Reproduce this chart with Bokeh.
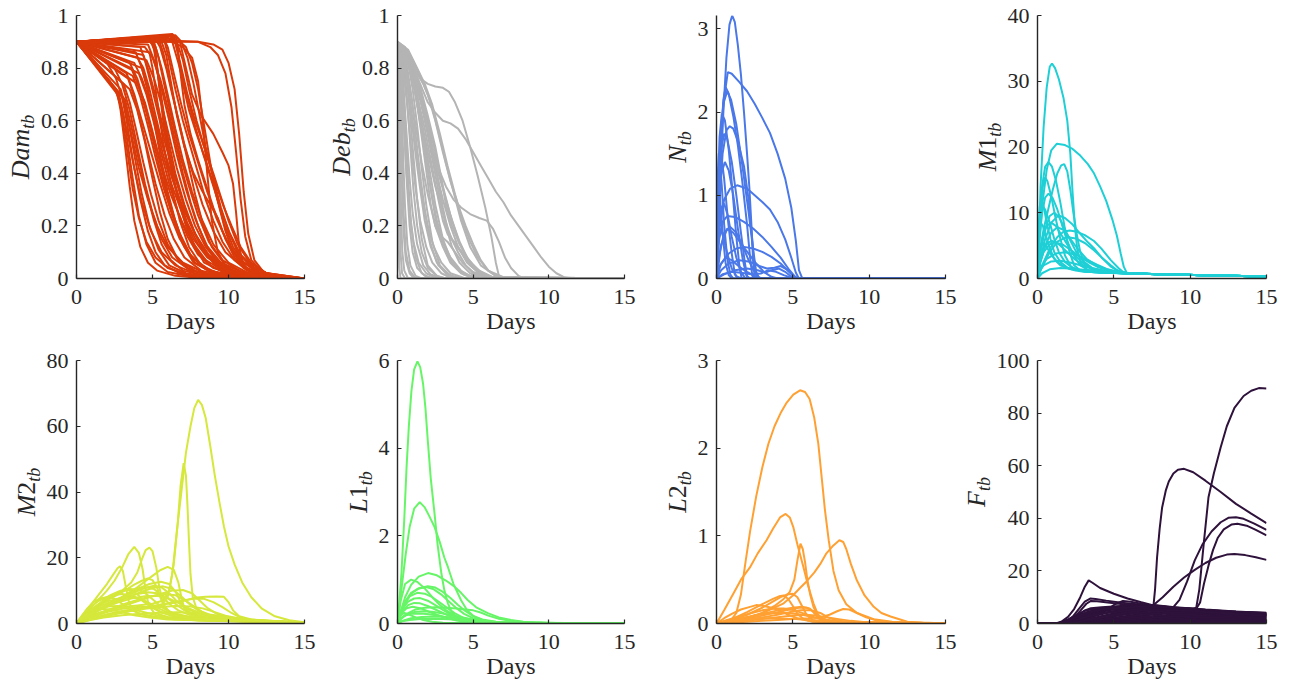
import math
from bokeh.plotting import figure
from bokeh.models import Range1d, FixedTicker, Label
from bokeh.layouts import row, column
from bokeh.embed import file_html
from bokeh.resources import INLINE

# ---------------- data ----------------
X_TICKS = [0, 5, 10, 15]
X_TICK_LABELS = ["0", "5", "10", "15"]

DAM_COLOR = "#DA3A0A"
DAM_YTICKS = [0, 0.2, 0.4, 0.6, 0.8, 1]
DAM_YLABELS = ["0", "0.2", "0.4", "0.6", "0.8", "1"]
DAM_YMAX = 1.0
DAM_TAIL = [(15, 0.0)]
DAM = [
    [(0,.9),(2.7,.7),(2.9,.64),(3.2,.5),(3.5,.35),(3.8,.22),(4.2,.12),(4.7,.06),(5.3,.03),(6.5,.01),(8,.003)],
    [(0,.9),(2.8,.7),(3.1,.62),(3.4,.5),(3.7,.38),(4.1,.24),(4.6,.13),(5.2,.06),(6,.025),(7.5,.008)],
    [(0,.9),(3.0,.69),(3.3,.6),(3.7,.45),(4.2,.3),(4.7,.18),(5.2,.1),(5.8,.05),(6.8,.02),(8,.007)],
    [(0,.9),(3.2,.68),(3.6,.58),(4.1,.45),(4.6,.33),(5.1,.22),(5.6,.13),(6.2,.07),(7,.03),(8.5,.01)],
    [(0,.9),(2.2,.75),(2.6,.71),(3,.64),(3.4,.54),(3.8,.42),(4.3,.29),(4.9,.18),(5.6,.1),(6.5,.05),(8,.015)],
    [(0,.9),(2,.82),(2.6,.76),(3.1,.67),(3.6,.55),(4.1,.42),(4.7,.3),(5.3,.2),(6,.12),(7,.06),(8.5,.02)],
    [(0,.9),(2.5,.8),(3.0,.74),(3.5,.64),(4.0,.5),(4.5,.36),(5,.25),(5.6,.15),(6.3,.08),(7.5,.03),(9,.01)],
    [(0,.9),(3.3,.78),(3.8,.7),(4.3,.6),(4.9,.48),(5.5,.36),(6.1,.25),(6.8,.15),(7.6,.08),(8.8,.03),(10.5,.01)],
    [(0,.9),(3.5,.72),(4,.64),(4.5,.52),(5,.38),(5.5,.25),(6,.15),(6.6,.08),(7.3,.04),(8.5,.01)],
    [(0,.9),(3.6,.8),(4.1,.73),(4.6,.63),(5.1,.51),(5.6,.39),(6.2,.27),(6.8,.17),(7.5,.09),(8.5,.035),(10,.01)],
    [(0,.9),(3.8,.82),(4.3,.76),(4.9,.66),(5.5,.54),(6.1,.42),(6.7,.31),(7.3,.21),(8,.13),(9,.06),(10.5,.02)],
    [(0,.9),(4,.74),(4.5,.67),(5,.56),(5.5,.44),(6,.32),(6.5,.21),(7,.13),(7.7,.06),(9,.02)],
    [(0,.9),(4,.84),(4.4,.8),(4.8,.72),(5.2,.62),(5.7,.5),(6.3,.38),(7,.27),(7.7,.18),(8.5,.1),(9.5,.04),(11,.012)],
    [(0,.9),(4.3,.8),(4.7,.72),(5.1,.6),(5.5,.47),(6,.33),(6.5,.22),(7.1,.12),(7.8,.06),(9,.02)],
    [(0,.9),(4.5,.88),(5,.84),(5.5,.76),(6,.65),(6.5,.52),(7,.4),(7.5,.29),(8,.2),(8.7,.11),(9.6,.05),(11,.015)],
    [(0,.9),(4.5,.91),(5.0,.9),(5.2,.86),(5.4,.75),(5.7,.6),(6.1,.45),(6.6,.32),(7.2,.2),(7.9,.11),(8.8,.05),(10,.015)],
    [(0,.9),(4.6,.83),(5.1,.76),(5.6,.66),(6.1,.54),(6.6,.42),(7.2,.3),(7.8,.2),(8.5,.12),(9.3,.06),(10.5,.02)],
    [(0,.9),(4.8,.86),(5.0,.8),(5.3,.68),(5.7,.52),(6.2,.36),(6.8,.22),(7.4,.12),(8.2,.05),(9.5,.015)],
    [(0,.9),(5,.9),(5.2,.85),(5.5,.72),(5.9,.55),(6.4,.38),(7,.24),(7.6,.14),(8.4,.06),(10,.015)],
    [(0,.9),(5.2,.91),(5.5,.88),(5.9,.8),(6.3,.7),(6.8,.58),(7.3,.45),(7.8,.32),(8.3,.21),(8.9,.12),(9.8,.05),(11.5,.012)],
    [(0,.9),(5.3,.92),(5.6,.9),(5.9,.85),(6.2,.75),(6.6,.62),(7.1,.5),(7.7,.4),(8.3,.33),(8.8,.28),(9.3,.23),(9.8,.15),(10.4,.08),(11.2,.03),(12.5,.01)],
    [(0,.9),(5.5,.92),(5.8,.9),(6.1,.83),(6.5,.72),(7,.6),(7.5,.5),(8,.4),(8.5,.3),(9,.22),(9.6,.14),(10.4,.07),(11.5,.025),(13,.008)],
    [(0,.9),(5.8,.91),(6.3,.9),(7,.88),(7.6,.84),(8.0,.75),(8.3,.6),(8.6,.4),(8.9,.22),(9.3,.1),(9.9,.04),(11,.012)],
    [(0,.9),(6,.925),(6.4,.92),(6.7,.85),(7.0,.74),(7.4,.64),(7.9,.55),(8.5,.45),(9,.36),(9.4,.27),(9.8,.18),(10.3,.1),(11,.04),(12.5,.01)],
    [(0,.9),(6.3,.93),(6.6,.91),(6.8,.8),(7.1,.66),(7.5,.55),(8,.45),(8.5,.36),(9,.27),(9.6,.18),(10.3,.1),(11.2,.04),(12.5,.012)],
    [(0,.9),(5.6,.92),(6.2,.92),(6.6,.9),(7,.83),(7.4,.72),(7.9,.6),(8.5,.48),(9.1,.37),(9.7,.27),(10.2,.2),(10.8,.12),(11.5,.06),(12.5,.02),(14,.005)],
    [(0,.9),(6.8,.9),(7.2,.88),(7.6,.82),(8,.72),(8.4,.58),(8.8,.44),(9.2,.32),(9.7,.21),(10.3,.12),(11,.06),(12,.02)],
    [(0,.9),(4,.91),(6,.915),(6.8,.9),(7.2,.8),(7.6,.7),(8.2,.62),(9,.55),(9.6,.48),(10,.43),(10.3,.36),(10.5,.25),(10.7,.12),(11,.05),(11.7,.02),(13,.006)],
    [(0,.9),(2,.9),(5,.9),(8,.9),(9,.89),(9.6,.87),(10,.82),(10.4,.72),(10.7,.55),(11,.33),(11.3,.17),(11.7,.07),(12.3,.025),(13,.01)],
    [(0,.9),(3,.9),(6,.905),(8,.9),(8.8,.88),(9.3,.85),(9.8,.78),(10.2,.65),(10.5,.48),(10.8,.3),(11.1,.16),(11.5,.07),(12.2,.025),(13.2,.008)],
    [(0,.9),(2.9,.72),(3.2,.66),(3.5,.57),(3.9,.44),(4.3,.32),(4.8,.2),(5.4,.11),(6.1,.05),(7.2,.02),(9,.005)],
    [(0,.9),(3.1,.74),(3.5,.67),(3.9,.57),(4.4,.44),(4.9,.32),(5.4,.22),(6,.13),(6.7,.07),(7.8,.03),(9.5,.008)],
    [(0,.9),(3.4,.76),(3.8,.69),(4.2,.6),(4.7,.48),(5.2,.36),(5.8,.24),(6.4,.15),(7.1,.08),(8.2,.03),(10,.008)],
    [(0,.9),(3.7,.77),(4.2,.69),(4.7,.58),(5.2,.46),(5.7,.35),(6.3,.24),(6.9,.15),(7.6,.08),(8.7,.03),(10.5,.008)],
    [(0,.9),(4.1,.78),(4.6,.7),(5.1,.59),(5.6,.47),(6.1,.36),(6.7,.25),(7.3,.16),(8,.09),(9,.04),(11,.01)],
    [(0,.9),(4.4,.85),(4.8,.78),(5.3,.67),(5.8,.55),(6.3,.43),(6.9,.31),(7.5,.21),(8.2,.12),(9.2,.05),(11,.012)],
    [(0,.9),(4.7,.89),(5.1,.83),(5.6,.72),(6.1,.6),(6.6,.47),(7.2,.34),(7.8,.23),(8.5,.13),(9.5,.06),(11.5,.012)],
    [(0,.9),(5.1,.9),(5.4,.84),(5.8,.73),(6.3,.6),(6.8,.47),(7.4,.35),(8,.24),(8.7,.14),(9.6,.07),(11,.02)],
    [(0,.9),(5.4,.91),(5.7,.86),(6.1,.76),(6.6,.63),(7.1,.51),(7.7,.39),(8.3,.28),(9,.18),(9.8,.1),(11,.04),(12.5,.01)],
    [(0,.9),(5.7,.92),(6,.88),(6.4,.78),(6.9,.66),(7.4,.55),(8,.44),(8.6,.33),(9.2,.23),(9.9,.14),(10.8,.07),(12,.025)],
    [(0,.9),(6.1,.925),(6.5,.9),(6.9,.8),(7.3,.7),(7.8,.6),(8.4,.5),(9,.4),(9.5,.31),(10,.22),(10.6,.13),(11.4,.06),(12.5,.02)],
    [(0,.9),(4.9,.9),(5.1,.87),(5.3,.8),(5.6,.68),(6,.54),(6.5,.4),(7.1,.28),(7.8,.17),(8.6,.09),(9.7,.04),(11,.012)],
    [(0,.9),(4.2,.88),(4.5,.83),(4.9,.74),(5.4,.62),(5.9,.5),(6.5,.38),(7.1,.27),(7.8,.17),(8.7,.09),(10,.03)],
    [(0,.9),(3.9,.86),(4.3,.8),(4.7,.71),(5.2,.59),(5.7,.47),(6.3,.35),(7,.24),(7.7,.15),(8.6,.08),(10,.025)],
    [(0,.9),(2.6,.72),(2.85,.67),(3.1,.58),(3.4,.46),(3.7,.34),(4.1,.23),(4.6,.14),(5.2,.08),(6,.04),(7.5,.012)],
    [(0,.9),(6.5,.925),(6.9,.9),(7.3,.84),(7.7,.74),(8.1,.62),(8.5,.5),(9,.38),(9.5,.27),(10,.18),(10.6,.1),(11.4,.05),(12.5,.02)],
    [(0,.9),(3.5,.82),(4.0,.76),(4.5,.66),(5.0,.55),(5.6,.43),(6.2,.32),(6.9,.22),(7.6,.14),(8.5,.07),(9.8,.025)],
    [(0,.9),(4.8,.9),(5.2,.88),(5.6,.8),(6.0,.7),(6.5,.57),(7.0,.45),(7.6,.33),(8.2,.23),(9,.13),(10,.06),(11.5,.015)],
    [(0,.9),(5.9,.92),(6.3,.9),(6.7,.82),(7.2,.71),(7.7,.6),(8.3,.48),(8.9,.37),(9.5,.26),(10.1,.17),(10.8,.09),(11.8,.035),(13,.01)],
]

DEB_COLOR = "#B4B4B4"
DEB_YTICKS = [0, 0.2, 0.4, 0.6, 0.8, 1]
DEB_YLABELS = ["0", "0.2", "0.4", "0.6", "0.8", "1"]
DEB_YMAX = 1.0
DEB_TAIL = [(15, 0.0)]
DEB = [
    [(0,.9),(0.05,.85),(0.1,.6),(0.15,.3),(0.2,.1),(0.3,.02),(0.5,0)],
    [(0,.9),(0.1,.86),(0.2,.7),(0.3,.45),(0.4,.25),(0.55,.1),(0.8,.03),(1.2,0)],
    [(0,.9),(0.1,.88),(0.2,.8),(0.3,.62),(0.4,.42),(0.5,.27),(0.65,.13),(0.85,.05),(1.2,.01),(1.6,0)],
    [(0,.9),(0.15,.87),(0.3,.75),(0.45,.56),(0.6,.38),(0.8,.2),(1.0,.1),(1.3,.04),(1.8,.01),(2.5,0)],
    [(0,.9),(0.2,.87),(0.35,.78),(0.5,.6),(0.7,.38),(0.9,.2),(1.2,.08),(1.6,.02),(2.2,0)],
    [(0,.9),(0.25,.87),(0.45,.8),(0.65,.67),(0.85,.5),(1.05,.34),(1.3,.2),(1.6,.1),(2,.04),(2.6,.01),(3.2,0)],
    [(0,.9),(0.3,.88),(0.5,.82),(0.75,.68),(1.0,.5),(1.3,.3),(1.6,.15),(2,.05),(2.6,.01),(3.2,0)],
    [(0,.9),(0.3,.86),(0.6,.76),(0.9,.62),(1.2,.47),(1.5,.34),(1.8,.22),(2.2,.12),(2.7,.05),(3.3,.015),(4,0)],
    [(0,.9),(0.35,.87),(0.65,.8),(0.95,.68),(1.25,.52),(1.55,.37),(1.85,.24),(2.2,.13),(2.6,.06),(3.2,.02),(4,0)],
    [(0,.9),(0.4,.85),(0.8,.73),(1.2,.58),(1.6,.44),(2,.32),(2.5,.2),(3,.12),(3.5,.06),(4.2,.02),(5,0)],
    [(0,.9),(0.4,.88),(0.7,.82),(1,.72),(1.3,.58),(1.6,.42),(1.9,.28),(2.3,.14),(2.8,.05),(3.5,.01),(4.5,0)],
    [(0,.9),(0.45,.87),(0.85,.8),(1.2,.7),(1.55,.56),(1.9,.41),(2.2,.28),(2.5,.2),(2.8,.16),(3.1,.12),(3.5,.07),(4.1,.03),(5,.005)],
    [(0,.9),(0.5,.87),(0.9,.8),(1.3,.7),(1.7,.56),(2.1,.42),(2.5,.28),(3,.15),(3.6,.06),(4.4,.015),(5.5,0)],
    [(0,.9),(0.5,.86),(1,.76),(1.5,.62),(2,.48),(2.5,.35),(3,.25),(3.5,.16),(4,.1),(4.5,.05),(5,.02),(6,0)],
    [(0,.9),(0.5,.86),(1,.76),(1.5,.6),(2,.42),(2.3,.3),(2.6,.2),(2.9,.16),(3.3,.14),(3.8,.1),(4.3,.06),(5,.025),(6,.005)],
    [(0,.9),(0.5,.87),(1,.8),(1.4,.73),(1.8,.64),(2.2,.53),(2.6,.4),(3,.27),(3.3,.19),(3.6,.15),(4,.12),(4.5,.08),(5,.05),(5.6,.02),(6.5,0)],
    [(0,.9),(0.55,.86),(1.05,.78),(1.5,.68),(1.95,.56),(2.35,.44),(2.75,.32),(3.15,.21),(3.6,.12),(4.1,.06),(4.8,.02),(5.6,0)],
    [(0,.9),(0.6,.86),(1.1,.77),(1.6,.66),(2.1,.54),(2.6,.42),(3.1,.32),(3.6,.22),(4.1,.14),(4.6,.08),(5.3,.03),(6.2,.005)],
    [(0,.9),(0.8,.84),(1.4,.72),(2,.56),(2.5,.42),(3,.3),(3.5,.2),(4,.12),(4.6,.06),(5.3,.025),(6.2,.005)],
    [(0,.9),(0.5,.88),(1,.81),(1.5,.72),(2,.6),(2.5,.48),(3,.35),(3.5,.24),(4,.15),(4.6,.07),(5.4,.02),(6.5,0)],
    [(0,.9),(0.7,.87),(1.3,.8),(1.8,.74),(2.3,.66),(2.8,.55),(3.3,.43),(3.8,.32),(4.3,.22),(4.8,.14),(5.3,.08),(6,.03),(7,.005)],
    [(0,.9),(0.6,.87),(1.2,.79),(1.7,.74),(2.2,.67),(2.7,.56),(3.2,.44),(3.7,.33),(4.2,.22),(4.8,.12),(5.5,.05),(6.5,.01),(7.5,0)],
    [(0,.9),(1,.83),(1.5,.77),(2,.7),(2.5,.6),(3,.48),(3.5,.37),(4,.28),(4.5,.2),(5,.13),(5.5,.07),(6,.03),(6.5,.01),(7,0)],
    [(0,.9),(0.7,.85),(1.2,.77),(1.7,.65),(2.2,.52),(2.7,.42),(3.2,.35),(3.7,.3),(4.2,.27),(4.8,.245),(5.4,.23),(5.9,.22),(6.3,.19),(6.7,.14),(7.1,.08),(7.5,.04),(8,.01),(8.4,0)],
    [(0,.9),(0.5,.87),(1,.81),(1.5,.76),(2,.74),(2.5,.73),(3,.725),(3.4,.71),(3.8,.67),(4.3,.6),(4.8,.5),(5.3,.39),(5.8,.27),(6.2,.16),(6.5,.06),(6.7,.01),(7,0)],
    [(0,.9),(0.5,.87),(1,.8),(1.5,.74),(2,.67),(2.5,.63),(3,.6),(3.5,.59),(4,.57),(4.5,.53),(5,.48),(5.5,.43),(6,.38),(6.5,.33),(7,.29),(7.5,.24),(8,.2),(8.5,.16),(9,.12),(9.5,.08),(10,.045),(10.5,.02),(11,.005),(11.5,0)],
    [(0,.9),(0.05,.88),(0.1,.8),(0.15,.6),(0.2,.4),(0.25,.22),(0.32,.1),(0.45,.03),(0.7,0)],
    [(0,.9),(0.08,.87),(0.15,.75),(0.22,.55),(0.3,.35),(0.4,.18),(0.55,.07),(0.8,.02),(1.1,0)],
    [(0,.85),(0.02,.7),(0.05,.4),(0.08,.15),(0.12,.04),(0.2,0)],
    [(0,.9),(0.2,.85),(0.4,.72),(0.6,.55),(0.8,.38),(1,.25),(1.3,.13),(1.7,.05),(2.2,.015),(3,0)],
    [(0,.9),(0.4,.84),(0.7,.74),(1,.6),(1.3,.45),(1.6,.32),(2,.2),(2.4,.12),(2.9,.06),(3.5,.02),(4.5,0)],
    [(0,.9),(0.6,.85),(1,.76),(1.4,.63),(1.8,.48),(2.2,.34),(2.6,.22),(3,.14),(3.5,.08),(4.2,.03),(5,0)],
    [(0,.9),(0.5,.85),(1.2,.72),(1.8,.57),(2.3,.42),(2.7,.3),(3,.22),(3.3,.17),(3.7,.14),(4.2,.1),(4.8,.05),(5.5,.015),(6.5,0)],
    [(0,.9),(0.8,.85),(1.4,.75),(2,.62),(2.5,.5),(2.9,.38),(3.2,.28),(3.6,.2),(4.1,.13),(4.7,.07),(5.4,.03),(6.3,.005)],
    [(0,.9),(0.3,.83),(0.6,.68),(0.9,.5),(1.2,.34),(1.5,.22),(1.9,.12),(2.3,.06),(2.9,.02),(3.6,0)],
    [(0,.9),(0.15,.85),(0.3,.72),(0.45,.55),(0.6,.4),(0.8,.26),(1.05,.14),(1.4,.06),(1.9,.02),(2.6,0)],
]

N_COLOR = "#4A78E8"
N_YTICKS = [0, 1, 2, 3]
N_YLABELS = ["0", "1", "2", "3"]
N_YMAX = 3.16
N_TAIL = [(15, 0.0)]
NTB = [
    [(0,0),(0.1,.5),(0.25,1.2),(0.45,2.0),(0.65,2.65),(0.85,3.05),(1.03,3.16),(1.2,3.08),(1.4,2.8),(1.6,2.45),(1.8,2.0),(2.0,1.5),(2.15,1.1),(2.3,.6),(2.4,.2),(2.5,.02),(3,0)],
    [(0,0),(0.1,.6),(0.25,1.4),(0.45,2.1),(0.74,2.48),(1.0,2.46),(1.5,2.36),(2,2.25),(2.5,2.1),(3,1.93),(3.5,1.75),(4,1.5),(4.5,1.2),(4.9,.85),(5.2,.45),(5.4,.1),(5.6,.01)],
    [(0,0),(0.1,.8),(0.3,1.7),(0.45,2.15),(0.6,2.3),(0.8,2.22),(1.1,1.95),(1.4,1.6),(1.7,1.15),(2.0,.65),(2.2,.25),(2.35,.03),(2.6,0)],
    [(0,0),(0.1,.9),(0.25,1.7),(0.45,2.1),(0.7,2.25),(0.95,2.15),(1.3,1.85),(1.7,1.35),(2.1,.8),(2.4,.35),(2.6,.08),(2.8,0)],
    [(0,0),(0.08,1.0),(0.2,1.7),(0.35,1.98),(0.55,1.9),(0.8,1.55),(1.05,1.05),(1.3,.5),(1.5,.15),(1.65,0)],
    [(0,0),(0.15,.8),(0.4,1.5),(0.65,1.78),(0.87,1.83),(1.1,1.8),(1.4,1.65),(1.8,1.35),(2.1,.95),(2.35,.45),(2.5,.1),(2.7,0)],
    [(0,0),(0.1,.9),(0.3,1.55),(0.5,1.74),(0.7,1.68),(1.0,1.4),(1.3,1.0),(1.6,.55),(1.85,.2),(2.0,.03),(2.2,0)],
    [(0,0),(0.06,1.1),(0.15,1.5),(0.3,1.5),(0.5,1.2),(0.75,.7),(1.0,.3),(1.2,.05),(1.4,0)],
    [(0,0),(0.2,.6),(0.5,.95),(0.9,1.08),(1.35,1.12),(2,1.08),(2.5,1.0),(3,.92),(3.5,.83),(4,.68),(4.5,.47),(4.9,.25),(5.2,.07),(5.4,0)],
    [(0,0),(0.15,.45),(0.4,.68),(0.7,.75),(1.2,.74),(1.8,.68),(2.4,.6),(3,.5),(3.6,.38),(4.2,.25),(4.7,.12),(5.1,.03),(5.3,0)],
    [(0,0),(0.3,.18),(0.8,.3),(1.3,.36),(1.8,.38),(2.4,.36),(3,.32),(3.6,.26),(4.2,.18),(4.7,.09),(5.1,.02),(5.3,0)],
    [(0,0),(0.1,.5),(0.3,.85),(0.5,.9),(0.75,.75),(1.0,.5),(1.3,.25),(1.6,.08),(1.9,0)],
    [(0,0),(0.05,.8),(0.12,1.3),(0.22,1.4),(0.35,1.1),(0.5,.65),(0.7,.25),(0.9,.05),(1.1,0)],
    [(0,0),(0.2,.3),(0.5,.55),(0.9,.62),(1.3,.55),(1.7,.4),(2.1,.22),(2.5,.08),(2.8,0)],
    [(0,0),(0.3,.1),(0.8,.18),(1.5,.22),(2.2,.2),(2.8,.15),(3.3,.12),(3.8,.13),(4.2,.15),(4.6,.11),(5,.04),(5.3,0)],
    [(0,0),(0.5,.05),(1.2,.1),(2,.12),(2.7,.1),(3.2,.07),(3.6,.1),(4.1,.12),(4.5,.08),(4.9,.02),(5.2,0)],
    [(0,0),(0.2,.15),(0.6,.25),(1,.22),(1.5,.14),(2,.08),(2.5,.03),(3,0)],
    [(0,0),(0.4,.05),(1,.08),(1.6,.07),(2.3,.05),(2.9,.06),(3.4,.1),(3.9,.08),(4.4,.04),(4.9,.01),(5.5,0)],
    [(0,0),(0.1,.4),(0.25,.6),(0.45,.5),(0.7,.3),(1,.12),(1.3,.03),(1.6,0)],
    [(0,0),(0.3,.4),(0.7,.6),(1.1,.55),(1.6,.42),(2.1,.3),(2.6,.18),(3.1,.08),(3.6,.02),(4,0)],
    [(0,0),(0.04,.6),(0.1,1.0),(0.18,1.05),(0.3,.8),(0.45,.45),(0.6,.18),(0.8,.04),(1,0)],
    [(0,0),(0.1,.7),(0.3,1.25),(0.55,1.4),(0.8,1.3),(1.1,1.0),(1.4,.6),(1.7,.25),(1.95,.04),(2.1,0)],
]

M1_COLOR = "#1FCFD6"
M1_YTICKS = [0, 10, 20, 30, 40]
M1_YLABELS = ["0", "10", "20", "30", "40"]
M1_YMAX = 40
M1_TAIL = [(8, 0.65), (11, 0.48), (15, 0.3)]
M1 = [
    [(0,0),(0.1,6),(0.2,14),(0.4,23),(0.6,29),(0.8,32.2),(0.95,32.7),(1.15,32),(1.4,30.3),(1.7,27.5),(1.95,24),(2.15,19),(2.3,13),(2.45,8),(2.6,4.5),(2.85,2.2),(3.3,1.2),(4,.95),(6,.75)],
    [(0,0),(0.1,5),(0.3,11),(0.6,16.5),(0.9,19.5),(1.27,20.5),(1.8,20.3),(2.3,19.7),(2.8,18.7),(3.3,17.4),(3.7,16),(4.1,14),(4.5,11.8),(4.9,9),(5.2,6.5),(5.45,3.8),(5.65,1.8),(5.85,.85),(6.2,.75)],
    [(0,0),(0.1,7),(0.3,14),(0.5,17),(0.72,17.7),(0.95,17),(1.2,15),(1.5,11.5),(1.8,7.5),(2.1,4),(2.4,2),(2.8,1.2),(3.5,1),(6,.75)],
    [(0,0),(0.15,4),(0.4,7.5),(0.7,10.5),(1.0,13.5),(1.3,16),(1.55,17.2),(1.75,17.4),(1.95,16.3),(2.15,13.5),(2.35,10),(2.55,7),(2.8,4),(3.1,2.2),(3.6,1.3),(4.5,1),(6,.75)],
    [(0,0),(0.08,6),(0.2,11),(0.35,14),(0.5,15.4),(0.65,14.8),(0.9,12.5),(1.2,9),(1.5,6),(1.8,3.5),(2.2,1.8),(2.8,1.1),(4,.9),(6,.75)],
    [(0,0),(0.1,5),(0.3,10),(0.5,12.3),(0.72,12.9),(1.0,12.2),(1.3,10.5),(1.6,8.2),(1.9,6),(2.3,3.8),(2.8,2),(3.4,1.2),(4.5,.95),(6,.75)],
    [(0,0),(0.2,3),(0.5,6),(0.9,8.5),(1.38,9.6),(1.8,9.2),(2.3,8.2),(2.8,6.8),(3.3,5.5),(3.7,4.6),(4.2,3.2),(4.8,1.8),(5.3,1.1),(6,.8)],
    [(0,0),(0.3,2),(0.8,4.5),(1.3,6.3),(1.7,7.1),(2.1,7.3),(2.6,7.1),(3.1,6.6),(3.7,5.7),(4.2,4.5),(4.8,2.8),(5.3,1.6),(5.65,.9),(6,.78)],
    [(0,0),(0.3,1.8),(0.8,4),(1.3,5.6),(1.9,6.3),(2.5,6.1),(3.1,5.4),(3.7,4.3),(4.3,3),(4.8,2),(5.2,1.3),(5.6,.9),(6,.78)],
    [(0,0),(0.05,5),(0.15,9),(0.3,11),(0.5,10.5),(0.8,8.5),(1.1,6),(1.4,4),(1.8,2.5),(2.3,1.6),(3,1.1),(4,.9),(6,.75)],
    [(0,0),(0.06,7),(0.15,11),(0.25,12),(0.4,11),(0.6,8.5),(0.85,6),(1.1,4),(1.5,2.5),(2,1.6),(3,1.1),(4.5,.9),(6,.75)],
    [(0,0),(0.1,3),(0.3,6),(0.6,8),(0.9,8.5),(1.2,8),(1.6,6.5),(2,5),(2.5,3.4),(3,2.3),(3.6,1.5),(4.5,1),(6,.75)],
    [(0,0),(0.1,2),(0.4,4),(0.8,5.2),(1.2,5.5),(1.7,5.1),(2.2,4.3),(2.8,3.3),(3.4,2.4),(4,1.7),(4.7,1.2),(6,.78)],
    [(0,0),(0.2,1.5),(0.6,3),(1.2,3.8),(1.8,4),(2.5,3.6),(3.2,2.9),(3.9,2.1),(4.6,1.4),(5.3,1),(6,.8)],
    [(0,0),(0.05,3),(0.15,5),(0.35,5.5),(0.6,4.8),(0.9,3.6),(1.3,2.5),(1.8,1.7),(2.5,1.2),(3.5,1),(6,.75)],
    [(0,0),(0.1,1),(0.4,2),(0.9,2.6),(1.5,2.7),(2.2,2.4),(3,1.9),(3.8,1.4),(4.6,1.1),(6,.8)],
    [(0,0),(0.15,2.5),(0.4,4.5),(0.7,5.5),(1,5.7),(1.4,5.2),(1.9,4.1),(2.4,3),(3,2),(3.7,1.4),(4.6,1),(6,.77)],
    [(0,0),(0.2,4),(0.5,7.5),(0.8,9.5),(1.1,10),(1.4,9.4),(1.7,8),(2.1,6),(2.5,4.2),(3,2.6),(3.6,1.6),(4.5,1.1),(6,.78)],
    [(0,0),(0.3,.8),(0.8,1.4),(1.5,1.6),(2.3,1.5),(3.2,1.3),(4.2,1.05),(6,.78)],
    [(0,0),(0.04,4),(0.1,7),(0.2,8.5),(0.35,8),(0.55,6.5),(0.8,4.6),(1.1,3),(1.5,2),(2.2,1.4),(3.2,1.05),(6,.75)],
    [(0,0),(0.2,2.5),(0.5,5),(0.9,7),(1.3,7.8),(1.7,7.4),(2.1,6.2),(2.6,4.6),(3.2,3),(3.9,1.9),(4.8,1.2),(6,.78)],
]

M2_COLOR = "#D5E83B"
M2_YTICKS = [0, 20, 40, 60, 80]
M2_YLABELS = ["0", "20", "40", "60", "80"]
M2_YMAX = 80
M2_TAIL = []
M2 = [
    [(0,0),(1,2),(2,3.5),(3,4.5),(4,5),(5,5),(5.6,5.5),(6.0,8),(6.3,15),(6.6,28),(6.9,40),(7.2,52),(7.5,60),(7.75,65.5),(8.0,68),(8.25,66.5),(8.5,62.5),(8.8,54),(9.1,45),(9.4,37),(9.7,29.5),(10.0,23.5),(10.4,18),(10.9,12.5),(11.5,8),(12.2,4.5),(13,2.3),(14,1),(15,.4)],
    [(0,0),(1,2.5),(2,4),(3,5),(4,5.5),(5,6),(5.7,7),(6.1,10),(6.4,18),(6.65,30),(6.85,42),(7.05,48.8),(7.2,45),(7.3,36),(7.4,25),(7.5,15),(7.65,8),(7.9,4.5),(8.5,2.8),(9.5,1.6),(11,.8),(15,.3)],
    [(0,0),(0.5,2.5),(1,5),(1.5,7.5),(2,10),(2.5,13),(3,17),(3.4,21),(3.8,23.3),(4.1,21.5),(4.35,16.5),(4.55,10),(4.75,5.5),(5.1,3.3),(6,2),(8,1),(15,.2)],
    [(0,0),(0.5,2),(1,4),(2,7),(3,10),(3.6,12.5),(4.0,15.5),(4.3,19.5),(4.55,22.3),(4.8,23.1),(5.0,22),(5.25,17),(5.45,11),(5.7,6),(6.1,3.5),(7,2),(9,1),(15,.2)],
    [(0,0),(0.5,3),(1,6),(1.5,9),(2,12),(2.4,14.8),(2.7,16.8),(2.87,17.4),(3.05,16),(3.25,11),(3.45,6.5),(3.7,4),(4.2,2.8),(5.5,1.8),(8,.9),(15,.2)],
    [(0,0),(0.5,1.5),(1,3),(2,5.5),(3,8),(4,11),(4.5,12.8),(5,14.5),(5.5,16.2),(6,17.2),(6.4,16.3),(6.7,12.5),(6.9,8),(7.1,4.5),(7.5,2.8),(8.5,1.7),(10,.9),(15,.2)],
    [(0,0),(0.5,2),(1,4),(2,7),(3,9.5),(3.8,11.8),(4.3,13),(4.7,13.7),(5.0,13.2),(5.3,11),(5.55,7.5),(5.8,4.8),(6.3,3.2),(7.5,2),(9,1.2),(15,.2)],
    [(0,0),(0.5,1.5),(1,3),(2,5.5),(3,8),(4,10.5),(4.8,12),(5.55,12.7),(6.1,12),(6.5,9.8),(6.8,7),(7.1,4.5),(7.6,3),(8.6,1.8),(10,1),(15,.2)],
    [(0,0),(1,1.5),(2,2.8),(3,3.8),(4,4.6),(5,5.3),(6,6),(7,6.8),(7.75,7.8),(8.5,8.1),(9.2,8.2),(9.7,8.1),(10.0,6.5),(10.3,4),(10.7,2.2),(11.5,1.2),(13,.6),(15,.2)],
    [(0,0),(1,1.2),(2,2.3),(3,3.3),(4,4.2),(5,5.2),(6,6.2),(7,7),(7.8,7.6),(8.4,7.5),(9,6.5),(9.6,5),(10.2,3.2),(10.8,1.8),(11.5,1.1),(13,.6),(15,.2)],
    [(0,0),(0.3,2),(0.7,4.5),(1.1,6.5),(1.5,7.5),(2,8),(2.5,7.5),(3,6),(3.5,4.5),(4.2,3),(5,2),(6.5,1.2),(15,.2)],
    [(0,0),(0.4,2.5),(0.9,5),(1.5,7),(2.2,8.5),(3,9),(3.7,8.5),(4.3,7),(4.9,5),(5.5,3.5),(6.3,2.3),(7.5,1.4),(15,.2)],
    [(0,0),(0.5,1.5),(1.2,3.5),(2,5.5),(3,7.5),(4,9),(4.7,9.5),(5.3,9.2),(5.9,8),(6.5,6),(7.1,4),(7.8,2.6),(9,1.5),(15,.2)],
    [(0,0),(0.5,1),(1.5,2.8),(2.5,4.5),(3.5,6),(4.5,7.5),(5.5,9),(6.3,10),(7,10.2),(7.6,9.2),(8.1,7),(8.6,4.8),(9.2,3),(10,1.8),(11,1.1),(15,.2)],
    [(0,0),(0.3,1.5),(0.8,3.2),(1.4,4.5),(2,5.2),(2.7,5.3),(3.4,4.8),(4.1,3.9),(4.9,2.9),(5.8,2),(7,1.3),(15,.2)],
    [(0,0),(0.6,1.5),(1.4,3),(2.3,4.5),(3.2,6),(4.1,7.3),(5,8.4),(5.8,9),(6.5,8.6),(7.1,7.2),(7.7,5.3),(8.3,3.5),(9,2.2),(10,1.3),(15,.2)],
    [(0,0),(0.4,2),(1,3.8),(1.7,5.5),(2.5,7),(3.3,8.5),(4,10),(4.6,11),(5.1,10.5),(5.6,8.5),(6.1,6),(6.7,4),(7.5,2.5),(8.6,1.5),(15,.2)],
    [(0,0),(0.5,1),(1.5,2),(2.5,3),(3.5,3.8),(4.5,4.5),(5.5,5),(6.5,5.3),(7.5,5.2),(8.3,4.6),(9,3.6),(9.8,2.4),(10.7,1.5),(12,.8),(15,.2)],
    [(0,0),(0.2,1.2),(0.6,2.8),(1.1,4),(1.7,4.5),(2.3,4.2),(3,3.4),(3.8,2.5),(4.8,1.8),(6,1.2),(15,.2)],
    [(0,0),(0.7,2),(1.5,4),(2.4,6),(3.3,7.8),(4.2,9.5),(5,10.8),(5.7,11.3),(6.3,10.5),(6.9,8.2),(7.5,5.6),(8.1,3.7),(8.8,2.4),(9.8,1.5),(15,.2)],
    [(0,0),(0.5,2.5),(1.2,5),(2,7.5),(2.8,9.5),(3.5,10.5),(4.1,10.3),(4.6,9),(5.1,7),(5.6,5),(6.2,3.4),(7,2.3),(8.3,1.4),(15,.2)],
    [(0,0),(0.8,1),(1.8,1.8),(3,2.5),(4.2,3),(5.4,3.3),(6.6,3.4),(7.8,3.2),(9,2.6),(10.2,1.8),(11.5,1.1),(15,.2)],
    [(0,0),(0.3,1.8),(0.8,3.8),(1.4,5.5),(2.1,6.8),(2.9,7.8),(3.6,8),(4.2,7.5),(4.8,6.2),(5.4,4.6),(6.1,3.2),(7,2.1),(8.5,1.2),(15,.2)],
    [(0,0),(0.6,1.8),(1.3,3.8),(2.1,5.8),(3,7.8),(3.8,9.5),(4.5,10.8),(5.1,11.5),(5.6,11),(6.1,9.2),(6.6,6.8),(7.2,4.6),(8,3),(9,1.9),(15,.2)],
    [(0,0),(0.4,1.4),(1,3),(1.8,4.8),(2.7,6.4),(3.6,7.6),(4.5,8.3),(5.3,8.4),(6,7.8),(6.7,6.3),(7.4,4.6),(8.2,3.1),(9.2,2),(10.5,1.2),(15,.2)],
    [(0,0),(0.5,2.2),(1.1,4.6),(1.7,6.8),(2.3,8.8),(2.9,10),(3.4,10.2),(3.9,9.2),(4.4,7.3),(4.9,5.3),(5.5,3.7),(6.3,2.5),(7.5,1.6),(15,.2)],
]

L1_COLOR = "#66F566"
L1_YTICKS = [0, 2, 4, 6]
L1_YLABELS = ["0", "2", "4", "6"]
L1_YMAX = 6
L1_TAIL = [(15, 0.0)]
L1 = [
    [(0,0),(0.1,.4),(0.26,1.14),(0.45,2.4),(0.6,3.57),(0.75,4.5),(0.92,5.3),(1.1,5.8),(1.32,5.98),(1.5,5.85),(1.69,5.47),(1.85,4.9),(2.0,4.18),(2.2,3.3),(2.45,2.5),(2.65,1.8),(2.9,1.14),(3.1,.75),(3.33,.46),(3.6,.25),(4.0,.11),(4.6,.04),(5.5,.01)],
    [(0,0),(0.1,.3),(0.3,.9),(0.55,1.6),(0.8,2.2),(1.1,2.62),(1.47,2.77),(1.8,2.65),(2.1,2.45),(2.45,2.2),(2.8,1.85),(3.1,1.5),(3.33,1.29),(3.7,.9),(4.2,.53),(4.6,.3),(5.1,.15),(5.8,.06),(7,.02)],
    [(0,0),(0.2,.25),(0.5,.6),(0.9,.88),(1.4,1.07),(2.02,1.15),(2.6,1.1),(3.2,.98),(3.77,.84),(4.2,.7),(4.65,.53),(5.2,.37),(6,.23),(6.7,.14),(7.5,.08),(8.3,.04),(9.25,.02),(10.5,.01)],
    [(0,0),(0.2,.2),(0.5,.45),(0.9,.68),(1.4,.8),(2,.85),(2.5,.82),(3,.72),(3.5,.58),(4,.42),(4.5,.28),(5,.17),(5.6,.09),(6.5,.04),(8,.01)],
    [(0,0),(0.2,.25),(0.5,.5),(0.9,.7),(1.4,.8),(1.9,.83),(2.4,.78),(2.9,.66),(3.4,.5),(3.9,.35),(4.4,.22),(5,.12),(5.8,.05),(7,.015)],
    [(0,0),(0.15,.2),(0.4,.45),(0.8,.62),(1.3,.7),(1.8,.68),(2.3,.6),(2.8,.48),(3.3,.35),(3.8,.23),(4.3,.14),(5,.07),(6,.02)],
    [(0,0),(0.1,.15),(0.35,.35),(0.7,.5),(1.1,.57),(1.5,.58),(2,.52),(2.5,.42),(3,.31),(3.5,.21),(4,.13),(4.6,.07),(5.5,.02)],
    [(0,0),(0.1,.12),(0.35,.3),(0.7,.42),(1.1,.47),(1.5,.46),(2,.4),(2.5,.32),(3,.24),(3.5,.16),(4,.1),(4.7,.05),(5.5,.02)],
    [(0,0),(0.2,.1),(0.6,.22),(1.2,.32),(1.8,.36),(2.5,.37),(3.2,.36),(3.9,.34),(4.5,.32),(5,.3),(5.5,.25),(6,.18),(6.7,.11),(7.5,.06),(8.5,.03),(10,.01)],
    [(0,0),(0.1,.1),(0.3,.25),(0.6,.35),(1,.38),(1.5,.35),(2,.28),(2.6,.2),(3.2,.13),(3.9,.07),(4.7,.03),(5.5,.01)],
    [(0,0),(0.2,.1),(0.6,.2),(1.1,.26),(1.7,.28),(2.3,.27),(3,.23),(3.7,.18),(4.4,.13),(5.1,.08),(5.9,.04),(7,.015)],
    [(0,0),(0.1,.08),(0.4,.17),(0.9,.22),(1.5,.23),(2.1,.21),(2.8,.17),(3.5,.12),(4.2,.08),(5,.04),(6,.015)],
    [(0,0),(0.3,.06),(0.9,.12),(1.6,.15),(2.4,.16),(3.2,.15),(4,.12),(4.8,.09),(5.6,.06),(6.5,.03),(7.5,.015)],
    [(0,0),(0.05,.1),(0.2,.2),(0.45,.24),(0.8,.2),(1.2,.14),(1.7,.08),(2.3,.04),(3,.015)],
    [(0,0),(0.2,.5),(0.5,.9),(0.9,1.0),(1.3,.95),(1.8,.8),(2.3,.6),(2.8,.42),(3.3,.28),(3.9,.16),(4.6,.08),(5.5,.03)],
    [(0,0),(0.3,.05),(0.8,.08),(1.5,.1),(2.2,.11),(3,.1),(3.8,.09),(4.6,.07),(5.5,.05),(6.5,.03),(8,.01)],
]

L2_COLOR = "#FFA033"
L2_YTICKS = [0, 1, 2, 3]
L2_YLABELS = ["0", "1", "2", "3"]
L2_YMAX = 3
L2_TAIL = [(15, 0.0)]
L2 = [
    [(0,0),(0.5,.01),(1.0,.05),(1.3,.12),(1.6,.33),(1.9,.7),(2.2,1.05),(2.6,1.45),(3,1.78),(3.4,2.05),(3.8,2.25),(4.2,2.4),(4.6,2.52),(5.03,2.61),(5.47,2.66),(5.8,2.64),(6.1,2.56),(6.4,2.35),(6.67,2.05),(6.9,1.65),(7.1,1.3),(7.35,.95),(7.66,.6),(8,.38),(8.5,.22),(9.2,.12),(10.3,.05),(11.5,.02),(12.5,.01)],
    [(0,0),(0.5,.15),(1.1,.34),(1.6,.5),(2.19,.64),(2.7,.8),(3.28,.95),(3.7,1.08),(4.16,1.21),(4.53,1.25),(4.8,1.21),(5.03,1.1),(5.3,.9),(5.5,.77),(5.7,.64),(6.0,.43),(6.35,.23),(6.6,.12),(6.8,.07),(7.3,.03),(8.5,.01)],
    [(0,0),(1,.02),(2,.06),(3,.12),(3.8,.2),(4.4,.28),(4.8,.36),(5.1,.5),(5.3,.72),(5.5,.91),(5.65,.85),(5.8,.7),(5.95,.5),(6.15,.32),(6.35,.19),(6.6,.1),(7,.05),(8,.02)],
    [(0,0),(1,.02),(2,.06),(3,.12),(3.8,.18),(4.4,.23),(5,.32),(5.5,.41),(5.9,.48),(6.4,.58),(6.8,.68),(7.2,.8),(7.6,.88),(8.05,.95),(8.3,.93),(8.5,.85),(8.8,.68),(9.2,.49),(9.7,.32),(10.3,.19),(10.8,.12),(11.4,.08),(12.5,.02),(13.5,.01)],
    [(0,0),(1,.04),(2,.1),(3,.18),(3.6,.24),(4.2,.3),(4.6,.33),(5.0,.34),(5.3,.3),(5.6,.2),(5.9,.1),(6.3,.04),(7,.015)],
    [(0,0),(1,.05),(2,.13),(3,.22),(3.7,.28),(4.1,.31),(4.4,.32),(4.7,.28),(5.0,.2),(5.3,.11),(5.7,.05),(6.3,.02)],
    [(0,0),(0.5,.06),(1,.11),(1.6,.16),(2.2,.19),(2.6,.21),(3.1,.2),(3.6,.18),(4.1,.15),(4.7,.1),(5.3,.06),(6,.03),(7,.01)],
    [(0,0),(1,.02),(2,.05),(3,.09),(4,.13),(4.8,.16),(5.4,.18),(5.9,.18),(6.3,.14),(6.6,.08),(7,.04),(7.8,.015)],
    [(0,0),(1,.03),(2,.07),(3,.11),(4,.15),(5,.18),(5.6,.19),(6.1,.17),(6.5,.11),(6.9,.06),(7.5,.02)],
    [(0,0),(1,.01),(2,.02),(3,.03),(4,.04),(5,.05),(6,.06),(6.8,.07),(7.4,.1),(7.9,.14),(8.3,.165),(8.7,.16),(9.2,.12),(9.8,.07),(10.5,.035),(11.5,.015),(12.5,.005)],
    [(0,0),(0.7,.04),(1.5,.08),(2.3,.12),(3,.15),(3.7,.17),(4.4,.17),(5.1,.15),(5.8,.11),(6.4,.07),(7.1,.035),(8,.015)],
    [(0,0),(1,.02),(2,.04),(3,.07),(4,.1),(4.8,.13),(5.5,.15),(6.2,.15),(6.8,.12),(7.3,.07),(7.8,.04),(8.5,.02)],
    [(0,0),(0.8,.03),(1.6,.06),(2.4,.09),(3.2,.11),(4,.12),(4.8,.12),(5.6,.1),(6.4,.07),(7.2,.04),(8,.02),(9,.01)],
    [(0,0),(1,.01),(2,.03),(3,.05),(4,.07),(5,.09),(5.8,.1),(6.5,.09),(7.2,.07),(8,.05),(8.8,.03),(9.8,.015)],
    [(0,0),(0.5,.02),(1.2,.04),(2,.05),(2.8,.06),(3.6,.06),(4.4,.055),(5.2,.05),(6,.04),(6.8,.03),(7.6,.02),(8.5,.01)],
]

F_COLOR = "#2E123B"
F_YTICKS = [0, 20, 40, 60, 80, 100]
F_YLABELS = ["0", "20", "40", "60", "80", "100"]
F_YMAX = 100
F_TAIL = []
FTB = [
    [(0,0),(1.2,0),(1.6,.8),(2,2.5),(2.4,5.5),(2.8,10),(3.1,14),(3.35,16.4),(3.6,15.5),(4.1,13.5),(5,11.3),(5.9,9.5),(6.8,8.1),(7.6,6.9),(9,5.9),(11,5.1),(13,4.5),(15,4.1)],
    [(0,0),(1.3,0),(1.8,.6),(2.3,2.5),(2.7,5.5),(3.1,8.3),(3.45,9.5),(3.8,9.3),(4.5,8.7),(5.5,7.9),(6.5,7.3),(7.6,6.7),(9.5,5.8),(12,4.8),(15,3.9)],
    [(0,0),(1.4,0),(1.9,.5),(2.4,2.2),(2.8,4.8),(3.2,7.5),(3.5,8.6),(3.9,8.5),(4.6,8),(5.6,7.3),(6.6,6.8),(7.6,6.3),(10,5.2),(12.5,4.3),(15,3.6)],
    [(0,0),(1.5,0),(2.2,.5),(3,1.5),(3.8,3),(4.5,5),(5.1,7.4),(5.6,8.6),(6.1,8.3),(6.8,7.5),(7.6,6.8),(9.5,5.8),(12,4.6),(15,3.5)],
    [(0,0),(1.5,0),(2.5,1),(3.5,2.5),(4.5,4),(5.5,5.2),(6.5,6),(7.5,6.4),(9,5.9),(11,5),(13,4.2),(15,3.4)],
    [(0,0),(1.6,0),(2.6,.8),(3.6,2),(4.6,3.3),(5.6,4.5),(6.6,5.4),(7.6,5.8),(9,5.4),(11,4.6),(13,3.8),(15,3.1)],
    [(0,0),(1.7,0),(2.8,.7),(4,1.8),(5.2,3),(6.4,4.2),(7.6,5),(8.5,5.1),(10,4.6),(12,3.8),(15,2.8)],
    [(0,0),(1.8,0),(3,.6),(4.3,1.6),(5.6,2.7),(6.8,3.7),(8,4.3),(9,4.4),(11,3.8),(13,3.1),(15,2.5)],
    [(0,0),(2,0),(3.3,.5),(4.6,1.3),(6,2.3),(7.3,3.2),(8.5,3.8),(9.5,3.9),(11.5,3.3),(13.5,2.7),(15,2.2)],
    [(0,0),(2.2,0),(3.6,.4),(5,1.1),(6.5,1.9),(8,2.7),(9.3,3.2),(10.5,3.2),(12.5,2.6),(15,1.9)],
    [(0,0),(2.5,0),(4,.3),(5.5,.9),(7,1.5),(8.5,2.1),(10,2.5),(11.5,2.5),(13.5,2),(15,1.6)],
    [(0,0),(2.8,0),(4.5,.2),(6,.6),(7.5,1.1),(9,1.6),(10.5,1.9),(12,1.9),(13.5,1.6),(15,1.3)],
    [(0,0),(3,0),(5,.15),(6.5,.4),(8,.75),(9.5,1.1),(11,1.35),(12.5,1.35),(15,1)],
    [(0,0),(3.5,0),(5.5,.1),(7,.25),(8.5,.45),(10,.65),(11.5,.8),(13,.8),(15,.65)],
    [(0,0),(4,0),(6,.05),(8,.15),(10,.3),(12,.4),(13.5,.4),(15,.3)],
    [(0,0),(1.4,0),(2,1),(2.6,3),(3.1,5),(3.5,5.8),(4.2,6.2),(5.2,6.6),(6.3,6.9),(7.6,7),(9,6.2),(11,5.3),(13,4.6),(15,4)],
    [(0,0),(1.6,0),(2.4,1.5),(3,3),(3.6,4),(4.4,4.8),(5.4,5.6),(6.5,6.3),(7.6,6.6),(9.5,5.6),(12,4.5),(15,3.8)],
    [(0,0),(1.5,0),(2.3,1),(3,2.5),(3.6,3.6),(4,4),(4.8,4.4),(5.8,5),(6.8,5.6),(7.8,6),(9.5,5.3),(12,4.3),(15,3.3)],
    [(0,0),(1.6,0),(2.5,1.2),(3.4,2.8),(4.3,4),(5.3,5),(6.4,5.8),(7.6,6.2),(9,5.7),(11,4.8),(13,4),(15,3.25)],
    [(0,0),(1.7,0),(2.7,1),(3.8,2.2),(4.9,3.5),(6,4.6),(7.2,5.3),(8.2,5.5),(10,4.9),(12,4.1),(15,3)],
    [(0,0),(1.8,0),(2.9,.8),(4.1,1.9),(5.4,3.1),(6.6,4),(7.8,4.6),(8.8,4.8),(10.5,4.3),(12.5,3.5),(15,2.65)],
    [(0,0),(1.9,0),(3.1,.6),(4.4,1.5),(5.8,2.5),(7.1,3.4),(8.3,4),(9.3,4.1),(11,3.6),(13,3),(15,2.35)],
    [(0,0),(2.1,0),(3.4,.5),(4.8,1.2),(6.2,2.1),(7.6,2.9),(8.9,3.4),(10,3.5),(12,3),(14,2.4),(15,2.05)],
    [(0,0),(2.3,0),(3.8,.35),(5.2,1),(6.8,1.7),(8.2,2.4),(9.6,2.8),(11,2.9),(13,2.4),(15,1.75)],
    [(0,0),(2.6,0),(4.2,.25),(5.8,.75),(7.3,1.3),(8.8,1.85),(10.3,2.2),(11.8,2.2),(13.5,1.8),(15,1.45)],
    [(0,0),(2.9,0),(4.8,.15),(6.3,.5),(7.8,.95),(9.3,1.35),(10.8,1.6),(12.3,1.6),(15,1.15)],
    [(0,0),(3.2,0),(5.2,.1),(6.8,.3),(8.3,.6),(9.8,.9),(11.3,1.1),(12.8,1.1),(15,.85)],
    [(0,0),(3.7,0),(5.8,.07),(7.5,.2),(9,.38),(10.5,.55),(12,.62),(13.5,.6),(15,.5)],
    [(0,0),(1.5,0),(2.2,.8),(2.9,2),(3.5,3),(4.2,3.8),(5,4.4),(6,5),(7,5.6),(7.6,6),(9,5.5),(11,4.6),(13,3.8),(15,3.1)],
    [(0,0),(1.7,0),(2.6,.6),(3.4,1.4),(4.2,2.3),(5,3.2),(5.8,4.1),(6.6,4.8),(7.6,5.3),(9.5,4.9),(12,3.9),(15,2.9)],
    [(0,0),(1.3,0),(2,1.5),(2.6,3.5),(3.2,5),(4,5.7),(5,6.3),(6.2,6.8),(7.6,7),(7.7,13),(7.83,25),(8.0,36),(8.16,44),(8.4,50.5),(8.6,54),(8.9,57),(9.2,58.5),(9.6,58.8),(10.2,57.5),(11,54.3),(12,50),(13,45.5),(14,41.8),(15,38.2)],
    [(0,0),(1.4,0),(2.1,1.2),(2.7,3),(3.3,4.5),(4.2,5.5),(5.3,6.2),(6.5,6.7),(7.6,7),(8.2,10),(8.9,14),(9.6,17.5),(10.3,20.4),(11,23),(11.7,25),(12.4,26.2),(12.9,26.4),(13.6,26),(14.3,25.2),(15,24.2)],
    [(0,0),(1.4,0),(2.2,1.3),(2.9,3.4),(3.6,4.8),(4.6,5.7),(5.8,6.3),(7,6.6),(8,6.4),(8.9,6.2),(9.3,9),(9.8,16),(10.3,24),(10.8,30),(11.4,35),(12,38.5),(12.5,40.2),(13,40.4),(13.5,39.8),(14.2,38),(15,35.6)],
    [(0,0),(1.5,0),(2.2,1.1),(2.9,3),(3.7,4.5),(4.8,5.4),(6,6),(7.3,6.4),(8.5,6.1),(9.5,5.8),(10.4,5.6),(10.65,8),(10.9,15),(11.2,22),(11.5,28),(11.8,32.5),(12.2,35.8),(12.7,37.6),(13.1,37.9),(13.7,37.2),(14.3,35.6),(15,33.5)],
    [(0,0),(1.4,0),(2.1,1.2),(2.8,3.2),(3.5,4.6),(4.5,5.5),(5.7,6.1),(7,6.5),(8,6.3),(9.2,5.9),(10.2,5.6),(10.4,6),(10.6,13),(10.9,31),(11.2,48),(11.55,57),(12,67),(12.4,75),(12.9,82),(13.5,86.5),(14,88.5),(14.5,89.5),(15,89.4)],
]

# y-axis label pieces: (text, font style, size key)
LABELS = {
    "dam": [("Dam", "italic", "main"), ("tb", "italic", "sub")],
    "deb": [("Deb", "italic", "main"), ("tb", "italic", "sub")],
    "n":   [("N", "italic", "main"), ("tb", "italic", "sub")],
    "m1":  [("M", "italic", "main"), ("1", "normal", "main"), ("tb", "italic", "sub")],
    "m2":  [("M", "italic", "main"), ("2", "normal", "main"), ("tb", "italic", "sub")],
    "l1":  [("L", "italic", "main"), ("1", "normal", "main"), ("tb", "italic", "sub")],
    "l2":  [("L", "italic", "main"), ("2", "normal", "main"), ("tb", "italic", "sub")],
    "f":   [("F", "italic", "main"), ("tb", "italic", "sub")],
}

# ---------------- styling / layout ----------------
INK = "#262626"
SERIF = "Liberation Serif"
TICK_PX = 22
MAIN_PX, SUB_PX = 26, 18
SUB_SHIFT = 4
CHAR_W = {"italic": {"D": .722, "a": .5, "m": .722, "e": .444, "b": .5, "N": .667,
                     "M": .833, "L": .556, "F": .611, "t": .278},
          "normal": {"1": .5, "2": .5}}
FRAME_H = 263
TOP_BORDER = 15
COL_LEFT = [76, 77, 76, 77]
COL_FRAME_W = [228, 227, 229, 229]
COL_RIGHT = [16, 16, 15, 20]


def seg_width(text, style, px):
    return sum(CHAR_W[style].get(ch, .5) for ch in text) * px


def tick_label_width(labels):
    return max(sum(.25 if ch == "." else .5 for ch in s) for s in labels) * TICK_PX


def make_label_fig(label_key, baseline_x, lw, height, bottom):
    """Narrow axis-less strip to the left of a panel that carries its y label."""
    q = figure(width=lw, height=height, x_range=Range1d(0, lw), y_range=Range1d(0, FRAME_H),
               output_backend="svg", toolbar_location=None,
               x_axis_type=None, y_axis_type=None,
               min_border_left=0, min_border_right=0,
               min_border_top=TOP_BORDER, min_border_bottom=bottom)
    q.outline_line_color = None
    parts = LABELS[label_key]
    sizes = {"main": MAIN_PX, "sub": SUB_PX}
    total = sum(seg_width(t, s, sizes[k]) for t, s, k in parts)
    pos = FRAME_H / 2 - total / 2
    for t, s, k in parts:
        px = sizes[k]
        # glyph body centre sits ~0.33 em to the left of the baseline
        bx = baseline_x + (SUB_SHIFT if k == "sub" else 0) - 0.33 * px
        q.add_layout(Label(x=bx, y=pos, x_units="data", y_units="data", text=t,
                           angle=math.pi / 2, text_font=SERIF, text_font_style=s,
                           text_font_size=f"{px}px", text_color=INK,
                           text_align="left", text_baseline="middle"))
        pos += seg_width(t, s, px)
    return q


def make_panel(curves, tail, color, ymax, yticks, ylabels, label_key, label_dx,
               col, height, bottom, label_std):
    fw = COL_FRAME_W[col]
    lw = int(COL_LEFT[col] - math.ceil(tick_label_width(ylabels) + 11))
    # keep the subscript's text box inside the strip
    baseline_x = min(COL_LEFT[col] + label_dx, lw - 8)
    left = COL_LEFT[col] - lw
    p = figure(width=left + fw + COL_RIGHT[col], height=height,
               x_range=Range1d(0, 15), y_range=Range1d(0, ymax),
               output_backend="svg", toolbar_location=None,
               min_border_left=left, min_border_right=COL_RIGHT[col],
               min_border_top=TOP_BORDER, min_border_bottom=bottom)
    xs = [[q[0] for q in c + tail] for c in curves]
    ys = [[q[1] for q in c + tail] for c in curves]
    p.multi_line(xs=xs, ys=ys, line_color=color, line_width=2.0)

    p.xgrid.visible = False
    p.ygrid.visible = False
    p.outline_line_color = None
    p.xaxis.ticker = FixedTicker(ticks=X_TICKS)
    p.xaxis.major_label_overrides = dict(zip(X_TICKS, X_TICK_LABELS))
    p.yaxis.ticker = FixedTicker(ticks=yticks)
    p.yaxis.major_label_overrides = dict(zip(yticks, ylabels))
    for ax in (p.xaxis[0], p.yaxis[0]):
        ax.axis_line_color = INK
        ax.axis_line_width = 1.4
        ax.major_tick_line_color = INK
        ax.major_tick_line_width = 1.2
        ax.major_tick_in = 4
        ax.major_tick_out = 0
        ax.minor_tick_line_color = None
        ax.major_label_text_font = SERIF
        ax.major_label_text_font_size = f"{TICK_PX}px"
        ax.major_label_text_color = INK
    p.xaxis.major_label_standoff = 11
    p.yaxis.major_label_standoff = 8
    p.xaxis.axis_label = "Days"
    p.xaxis.axis_label_text_font = SERIF
    p.xaxis.axis_label_text_font_size = "24px"
    p.xaxis.axis_label_text_font_style = "normal"
    p.xaxis.axis_label_text_color = INK
    p.xaxis.axis_label_standoff = label_std

    strip = make_label_fig(label_key, baseline_x, lw, height, bottom)
    return row(strip, p)


TOP_H, BOT_H = 345, 339
specs_top = [
    (DAM, DAM_TAIL, DAM_COLOR, DAM_YMAX, DAM_YTICKS, DAM_YLABELS, "dam", -47),
    (DEB, DEB_TAIL, DEB_COLOR, DEB_YMAX, DEB_YTICKS, DEB_YLABELS, "deb", -47),
    (NTB, N_TAIL, N_COLOR, N_YMAX, N_YTICKS, N_YLABELS, "n", -29),
    (M1, M1_TAIL, M1_COLOR, M1_YMAX, M1_YTICKS, M1_YLABELS, "m1", -39),
]
specs_bot = [
    (M2, M2_TAIL, M2_COLOR, M2_YMAX, M2_YTICKS, M2_YLABELS, "m2", -40),
    (L1, L1_TAIL, L1_COLOR, L1_YMAX, L1_YTICKS, L1_YLABELS, "l1", -29),
    (L2, L2_TAIL, L2_COLOR, L2_YMAX, L2_YTICKS, L2_YLABELS, "l2", -29),
    (FTB, F_TAIL, F_COLOR, F_YMAX, F_YTICKS, F_YLABELS, "f", -50),
]

top_cells = [make_panel(*s, col=i, height=TOP_H, bottom=TOP_H - TOP_BORDER - FRAME_H, label_std=1)
             for i, s in enumerate(specs_top)]
bot_cells = [make_panel(*s, col=i, height=BOT_H, bottom=BOT_H - TOP_BORDER - FRAME_H, label_std=1)
             for i, s in enumerate(specs_bot)]

layout = column(row(*top_cells), row(*bot_cells))
open("out.html", "w").write(file_html(layout, INLINE))
